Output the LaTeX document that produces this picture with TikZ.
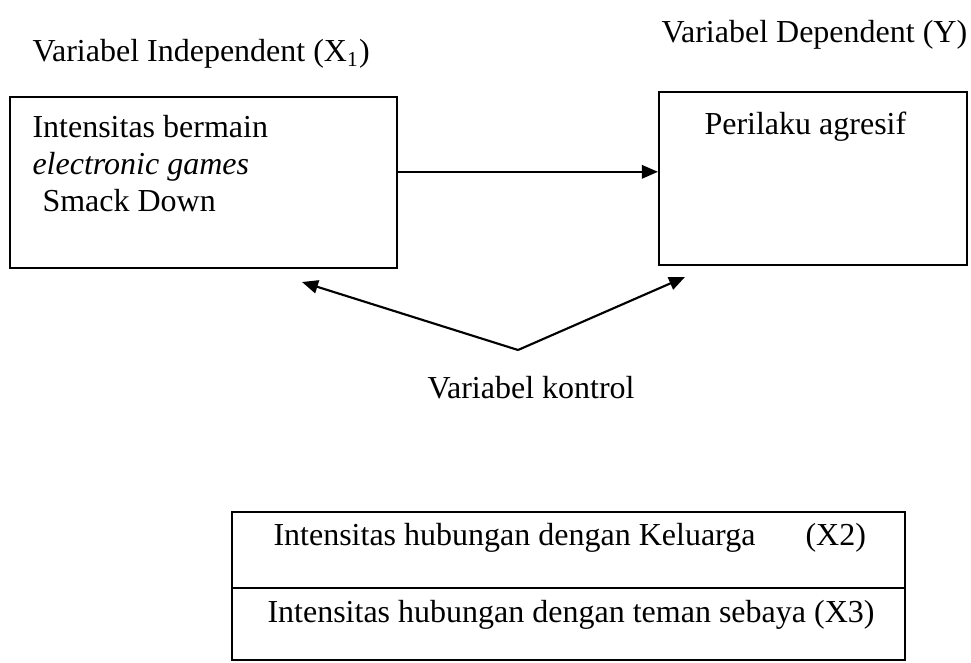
\documentclass[tikz,border=0pt]{standalone}
\usepackage{fontspec}
\setmainfont{Liberation Serif}
\usetikzlibrary{arrows.meta}

\begin{document}
\begin{tikzpicture}[x=0.375pt,y=-0.375pt,
        box/.style={draw,line width=0.8pt,rectangle,inner sep=0pt},
        txt/.style={anchor=base west,inner sep=0pt,font=\fontsize{12}{14}\selectfont},
        arrow/.style={line width=0.8pt,-{Triangle[length=6pt,width=5pt]}}]
    \useasboundingbox (0,0) rectangle (971,662);

    % Headings
    \node[txt] (indephead) at (32,62) {Variabel Independent (X\textsubscript{1})};
    \node[txt] (dephead) at (661,43) {Variabel Dependent (Y)};

    % Independent and dependent boxes
    \node[box,minimum width=145.1pt,minimum height=64.1pt] (indep) at (203.5,182.5) {};
    \node[box,minimum width=115.5pt,minimum height=64.9pt] (dep) at (813,178.5) {};

    % Text in the boxes
    \node[txt] (intens) at (32,138) {Intensitas bermain};
    \node[txt] (games) at (32,175) {\textit{electronic games}};
    \node[txt] (smack) at (42,212) {Smack Down};
    \node[txt] (agresif) at (704,135) {Perilaku agresif};

    % Control variable
    \node[txt] (kontrol) at (427,398) {Variabel kontrol};
    \coordinate (apex) at (518,350);
    \coordinate (lefttip) at (302,282);
    \coordinate (righttip) at (685,277);

    % Control box
    \node[box,minimum width=252.4pt,minimum height=28.5pt] (x2) at (568.5,550) {};
    \node[box,minimum width=252.4pt,minimum height=27pt] (x3) at (568.5,624) {};
    \node[txt] (x2text) at (273,545) {Intensitas hubungan dengan Keluarga};
    \node[txt] (x2label) at (805,545) {(X2)};
    \node[txt] (x3text) at (267,622) {Intensitas hubungan dengan teman sebaya (X3)};

    % Arrow from X1 to Y
    \draw[arrow] ([yshift=4pt]indep.east) -- ([yshift=4pt]indep.east -| dep.west);

    % Arrows from control variable
    \draw[arrow] (apex) -- (lefttip);
    \draw[arrow] (apex) -- (righttip);
\end{tikzpicture}
\end{document}
